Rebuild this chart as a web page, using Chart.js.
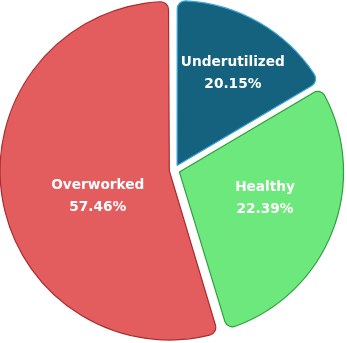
<!DOCTYPE html>
<html>
<head>
<meta charset="utf-8">
<script src="https://cdn.jsdelivr.net/npm/chart.js@4"></script>
<style>
  html, body { margin: 0; padding: 0; background: #fff; }
  #wrap { width: 347px; height: 343px; }
</style>
</head>
<body>
<div id="wrap"><canvas id="chart"></canvas></div>
<script>
// data
const categories = ['Underutilized', 'Healthy', 'Overworked'];
// percentages printed on the slices
const shares = [20.15, 22.39, 57.46];
// slice sizes as drawn (measured from the slice edges)
const sliceSizes = [16.5, 28.8, 54.7];

const fillColors = ['#15627f', '#6de87c', '#e35d5f'];
const edgeColors = ['#3aa6dc', '#2f9e41', '#a92d30'];

// where each label sits: angle shift (deg) and distance as part of the radius
const labelSpots = [
    { shift: 1.35, dist: 0.69 },
    { shift: -3.75, dist: 0.579 },
    { shift: -10.6, dist: 0.495 }
];

const sliceLabels = {
    id: 'sliceLabels',
    afterDatasetsDraw(chart) {
        const ctx = chart.ctx;
        const meta = chart.getDatasetMeta(0);
        ctx.save();
        ctx.fillStyle = '#ffffff';
        ctx.textAlign = 'center';
        ctx.textBaseline = 'middle';
        ctx.font = 'bold 13.7px "DejaVu Sans", sans-serif';
        meta.data.forEach((arc, i) => {
            const p = arc.getProps(['x', 'y', 'startAngle', 'endAngle', 'outerRadius'], true);
            const spot = labelSpots[i];
            const a = (p.startAngle + p.endAngle) / 2 + spot.shift * Math.PI / 180;
            const r = p.outerRadius * spot.dist;
            const x = p.x + Math.cos(a) * r;
            const y = p.y + Math.sin(a) * r;
            ctx.fillText(categories[i], x, y - 11);
            ctx.fillText(shares[i].toFixed(2) + '%', x, y + 11);
        });
        ctx.restore();
    }
};

new Chart(document.getElementById('chart'), {
    type: 'pie',
    data: {
        labels: categories,
        datasets: [{
            data: sliceSizes,
            backgroundColor: fillColors,
            borderColor: edgeColors,
            borderWidth: 1.2,
            offset: 21,
            borderRadius: 8,
            radius: 164
        }]
    },
    options: {
        responsive: true,
        maintainAspectRatio: false,
        animation: false,
        layout: { padding: { left: 2, bottom: 3 } },
        plugins: {
            legend: { display: false },
            tooltip: { enabled: false }
        }
    },
    plugins: [sliceLabels]
});
</script>
</body>
</html>
